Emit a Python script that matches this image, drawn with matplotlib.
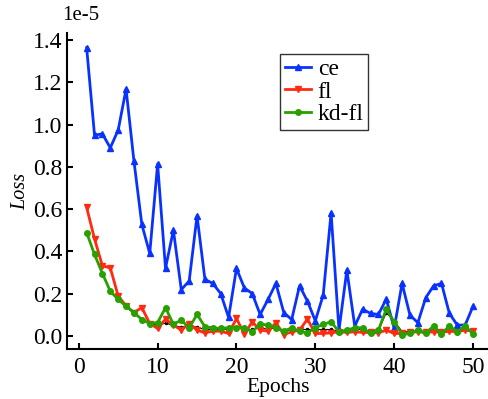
import numpy as np
import matplotlib
matplotlib.use("Agg")
import matplotlib.pyplot as plt
from matplotlib.ticker import FormatStrFormatter

# loss values, units of 1e-5
epochs = list(range(1, 51))
ce = [1.364, 0.950, 0.956, 0.890, 0.974, 1.168, 0.827, 0.527, 0.390, 0.813,
      0.320, 0.500, 0.219, 0.259, 0.568, 0.267, 0.248, 0.200, 0.087, 0.319,
      0.227, 0.200, 0.101, 0.172, 0.248, 0.110, 0.077, 0.237, 0.164, 0.071,
      0.193, 0.582, 0.027, 0.311, 0.046, 0.126, 0.106, 0.101, 0.174, 0.035,
      0.248, 0.098, 0.062, 0.180, 0.237, 0.248, 0.106, 0.051, 0.051, 0.140]
fl = [0.608, 0.459, 0.331, 0.322, 0.188, 0.142, 0.110, 0.134, 0.058, 0.035,
      0.079, 0.051, 0.027, 0.058, 0.027, 0.014, 0.022, 0.022, 0.011, 0.082,
      0.008, 0.066, 0.027, 0.022, 0.062, 0.006, 0.019, 0.027, 0.079, 0.011,
      0.011, 0.014, 0.019, 0.016, 0.019, 0.016, 0.016, 0.014, 0.027, 0.011,
      0.011, 0.016, 0.019, 0.016, 0.019, 0.016, 0.022, 0.019, 0.027, 0.022]
kd_fl = [0.489, 0.385, 0.295, 0.211, 0.172, 0.140, 0.110, 0.077, 0.058, 0.063,
         0.133, 0.055, 0.074, 0.038, 0.101, 0.043, 0.038, 0.035, 0.038, 0.039,
         0.038, 0.019, 0.055, 0.051, 0.038, 0.022, 0.038, 0.022, 0.014, 0.038,
         0.055, 0.066, 0.019, 0.027, 0.038, 0.038, 0.011, 0.027, 0.126, 0.066,
         0.006, 0.011, 0.027, 0.011, 0.047, 0.008, 0.047, 0.019, 0.047, 0.008]
# thin black curve without legend entry
other = [0.489, 0.385, 0.295, 0.211, 0.180, 0.145, 0.110, 0.080, 0.060, 0.050,
         0.060, 0.050, 0.040, 0.050, 0.040, 0.030, 0.030, 0.030, 0.030, 0.040,
         0.030, 0.030, 0.040, 0.030, 0.040, 0.020, 0.030, 0.030, 0.030, 0.030,
         0.030, 0.030, 0.020, 0.025, 0.030, 0.030, 0.020, 0.025, 0.110, 0.070,
         0.020, 0.020, 0.025, 0.020, 0.030, 0.020, 0.030, 0.025, 0.035, 0.015]

plt.rcParams['font.family'] = ['Liberation Serif', 'DejaVu Serif']

fig = plt.figure(figsize=(4.89, 3.99), dpi=100)
ax = fig.add_axes([0.138, 0.125, 0.860, 0.792])

ax.plot(epochs, other, color='black', lw=0.8, marker='o', ms=1.5, zorder=1)
ax.plot(epochs, ce, color='#0a32ff', lw=2, marker='^', ms=4, label='ce')
ax.plot(epochs, fl, color='#ff2a10', lw=2, marker='v', ms=4, label='fl')
ax.plot(epochs, kd_fl, color='#28a000', lw=2, marker='o', ms=4, label='kd-fl')

ax.set_xlim(-1.43, 51.9)
ax.set_ylim(-0.063, 1.433)
ax.set_xticks([0, 10, 20, 30, 40, 50])
ax.set_yticks(np.arange(0, 1.41, 0.2))
ax.yaxis.set_major_formatter(FormatStrFormatter('%.1f'))
fig.text(0.127, 0.962, '1e-5', fontsize=15, ha='left', va='center')

for s in ['top', 'right']:
    ax.spines[s].set_visible(False)
for s in ['left', 'bottom']:
    ax.spines[s].set_linewidth(1.5)
ax.tick_params(direction='in', labelsize=17, width=1.5, length=4)
ax.tick_params(axis='x', pad=6)

ax.set_xlabel('Epochs', fontsize=15.5, labelpad=0)
ax.set_ylabel('Loss', fontsize=14.5, style='italic', labelpad=2)

leg = ax.legend(loc='upper left', bbox_to_anchor=(0.505, 0.935), fontsize=17,
                frameon=True, fancybox=False, edgecolor='black', handlelength=1.1,
                handletextpad=0.3, borderpad=0.2, labelspacing=0.05, borderaxespad=0)
leg.get_frame().set_linewidth(1.0)

fig.savefig('out.png', dpi=100)
